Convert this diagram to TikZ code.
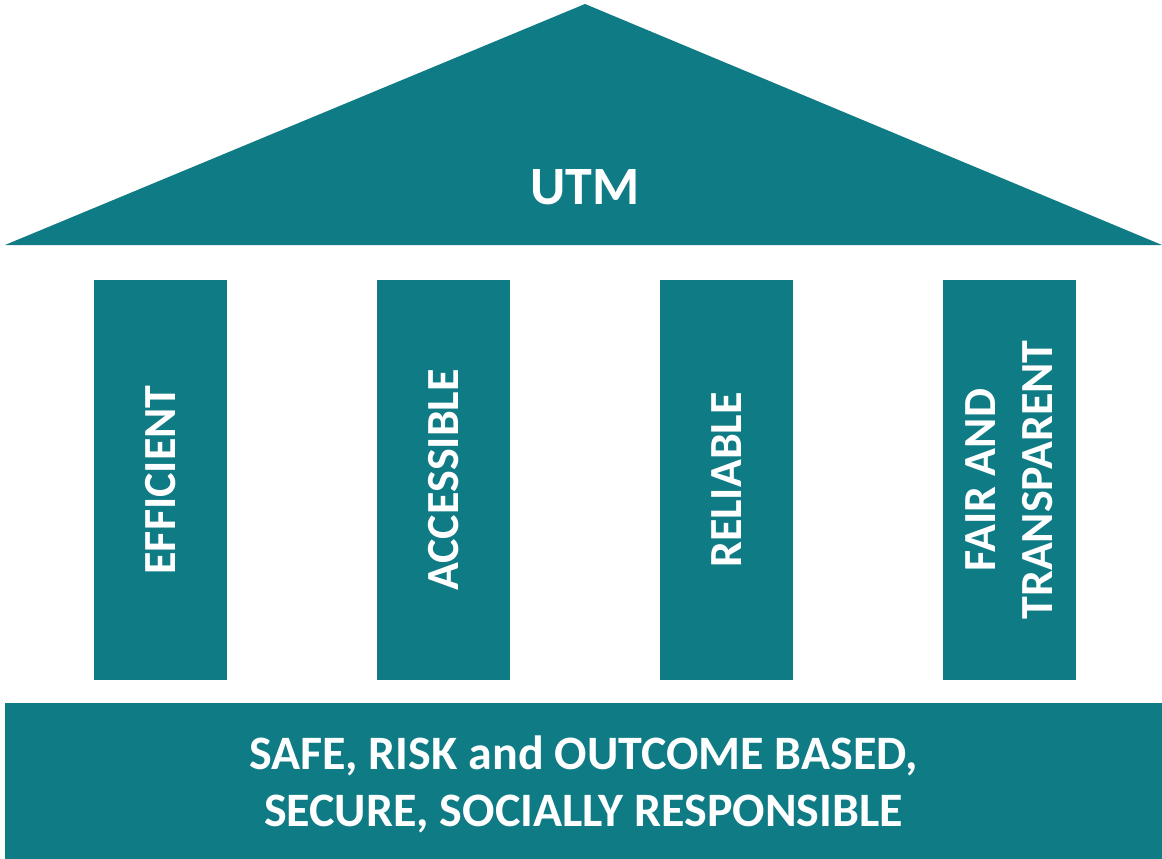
\documentclass[tikz,border=0pt]{standalone}
\usepackage{fontspec}
\setmainfont{Carlito}
\definecolor{utmteal}{HTML}{0E7B85}
\tikzset{
  pillar/.style={fill=utmteal, text=white, rotate=90, minimum width=400pt, minimum height=133pt, inner sep=0pt, align=center, font=\bfseries\fontsize{46}{57}\selectfont},
}

\begin{document}
\begin{tikzpicture}[x=1pt,y=-1pt]
        \useasboundingbox (0,0) rectangle (1162,859);
        % roof
        \fill[utmteal] (5,245) -- (585,4) -- (1162,245) -- cycle;
        \node[text=white, font=\bfseries\fontsize{54}{60}\selectfont] (roof) at (585,187) {UTM};

        % pillars
        \node[pillar] (efficient) at (160.5,480) {EFFICIENT};
        \node[pillar] (accessible) at (443.5,480) {ACCESSIBLE};
        \node[pillar] (reliable) at (726.5,480) {RELIABLE};
        \node[pillar] (fair) at (1009.5,480) {FAIR AND\\TRANSPARENT};

        % foundation
        \node[fill=utmteal, text=white, minimum width=1157pt, minimum height=156pt, inner sep=0pt, align=center, font=\bfseries\fontsize{48}{57}\selectfont] (base) at (583.5,781) {};
        \node[text=white, align=center, font=\bfseries\fontsize{48}{57}\selectfont] (basetext) at (583.5,784) {SAFE, RISK and OUTCOME BASED,\\SECURE, SOCIALLY RESPONSIBLE};
    \end{tikzpicture}
\end{document}
